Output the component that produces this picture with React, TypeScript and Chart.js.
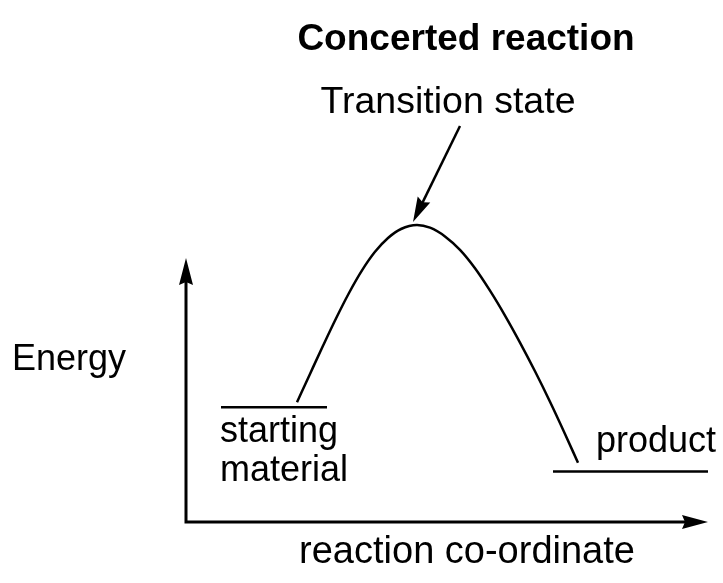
import { useEffect, useRef } from "react";
import { Chart, registerables } from "chart.js";

Chart.register(...registerables);

// reaction coordinate (x) and energy (y) of the energy profile
const curveCoord = [1.11, 1.24, 1.37, 1.5, 1.63, 1.76, 1.89, 2.02, 2.15, 2.31, 2.44, 2.59, 2.74, 2.89, 3.04, 3.19, 3.34, 3.49, 3.64, 3.79, 3.92];
const curveEnergy = [1.198, 1.481, 1.762, 2.035, 2.29, 2.516, 2.702, 2.84, 2.93, 2.97, 2.943, 2.856, 2.721, 2.537, 2.313, 2.064, 1.794, 1.507, 1.203, 0.881, 0.592];

// energy levels
const startingCoord = [0.35, 1.41];
const startingEnergy = [1.147, 1.147];
const productCoord = [3.67, 5.22];
const productEnergy = [0.505, 0.505];

// axis arrow ends (data units)
const axisXEnd = 5.22;
const axisYEnd = 2.64;

// arrow pointing to the transition state (tail, tip) in data units
const tsArrowCoord = [2.74, 2.27];
const tsArrowEnergy = [3.96, 3.0];

const titleText = "Concerted reaction";
const tsLabel = "Transition state";
const yLabel = "Energy";
const xLabel = "reaction co-ordinate";
const startLabel = ["starting", "material"];
const productLabel = "product";

const FONT = "'Liberation Sans', Arial, Helvetica, sans-serif";

function drawHead(ctx: CanvasRenderingContext2D, x0: number, y0: number, x1: number, y1: number, len: number, half: number, notch: number) {
  const ang = Math.atan2(y1 - y0, x1 - x0);
  const c = Math.cos(ang), s = Math.sin(ang);
  const bx = x1 - c * len, by = y1 - s * len;
  ctx.beginPath();
  ctx.moveTo(x1, y1);
  ctx.lineTo(bx - s * half, by + c * half);
  ctx.lineTo(bx + c * notch, by + s * notch);
  ctx.lineTo(bx + s * half, by - c * half);
  ctx.closePath();
  ctx.fill();
}

const annotationPlugin = {
  id: "energyAnnotations",
  afterDatasetsDraw(chart: any) {
    const { ctx, scales } = chart;
    const xs = scales.x, ys = scales.y;
    const px = (v: number) => xs.getPixelForValue(v);
    const py = (v: number) => ys.getPixelForValue(v);
    ctx.save();
    ctx.fillStyle = "#000";
    ctx.strokeStyle = "#000";
    ctx.lineCap = "butt";

    // axes
    const ox = px(0), oy = py(0);
    const xe = px(axisXEnd), ye = py(axisYEnd);
    ctx.lineWidth = 3;
    ctx.beginPath();
    ctx.moveTo(ox, oy + 1.5);
    ctx.lineTo(ox, ye + 20);
    ctx.moveTo(ox - 1.5, oy);
    ctx.lineTo(xe - 20, oy);
    ctx.stroke();
    drawHead(ctx, ox, oy, ox, ye, 27, 7, 3);
    drawHead(ctx, ox, oy, xe, oy, 26, 7, 3);

    // transition state arrow
    const tx0 = px(tsArrowCoord[0]), ty0 = py(tsArrowEnergy[0]);
    const tx1 = px(tsArrowCoord[1]), ty1 = py(tsArrowEnergy[1]);
    const ang = Math.atan2(ty1 - ty0, tx1 - tx0);
    ctx.lineWidth = 2.5;
    ctx.beginPath();
    ctx.moveTo(tx0, ty0);
    ctx.lineTo(tx1 - Math.cos(ang) * 18, ty1 - Math.sin(ang) * 18);
    ctx.stroke();
    drawHead(ctx, tx0, ty0, tx1, ty1, 25, 7, 3);

    // texts
    ctx.textBaseline = "alphabetic";
    ctx.textAlign = "center";
    ctx.font = `bold 37px ${FONT}`;
    ctx.fillText(titleText, 466, 50);
    ctx.font = `37.5px ${FONT}`;
    ctx.fillText(tsLabel, 448, 113);
    ctx.font = `38px ${FONT}`;
    ctx.fillText(xLabel, 467, 563);
    ctx.font = `36px ${FONT}`;
    ctx.textAlign = "left";
    ctx.fillText(yLabel, 12, 370);
    ctx.fillText(startLabel[0], 220, 442);
    ctx.fillText(startLabel[1], 220, 481);
    ctx.fillText(productLabel, 596, 452);
    ctx.restore();
  },
};

export default function App() {
  const ref = useRef<HTMLCanvasElement | null>(null);
  useEffect(() => {
    if (!ref.current) return;
    const toPts = (xs: number[], ys: number[]) => xs.map((x, i) => ({ x, y: ys[i] }));
    const chart = new Chart(ref.current, {
      type: "scatter",
      data: {
        datasets: [
          {
            data: toPts(curveCoord, curveEnergy),
            showLine: true,
            borderColor: "#000",
            borderWidth: 2.5,
            pointRadius: 0,
            cubicInterpolationMode: "monotone",
            fill: false,
          },
          {
            data: toPts(startingCoord, startingEnergy),
            showLine: true,
            borderColor: "#000",
            borderWidth: 2.5,
            pointRadius: 0,
          },
          {
            data: toPts(productCoord, productEnergy),
            showLine: true,
            borderColor: "#000",
            borderWidth: 2.5,
            pointRadius: 0,
          },
        ],
      },
      options: {
        animation: false,
        responsive: false,
        devicePixelRatio: 1,
        layout: { padding: 0 },
        plugins: { legend: { display: false }, tooltip: { enabled: false }, title: { display: false } },
        scales: {
          x: { type: "linear", min: -1.86, max: 5.37, display: false },
          y: { type: "linear", min: -0.61, max: 5.22, display: false },
        },
      },
      plugins: [annotationPlugin],
    } as any);
    return () => chart.destroy();
  }, []);
  return (
    <div style={{ position: "absolute", left: 0, top: 0, width: 723, height: 583, background: "#fff" }}>
      <canvas ref={ref} width={723} height={583} />
    </div>
  );
}
